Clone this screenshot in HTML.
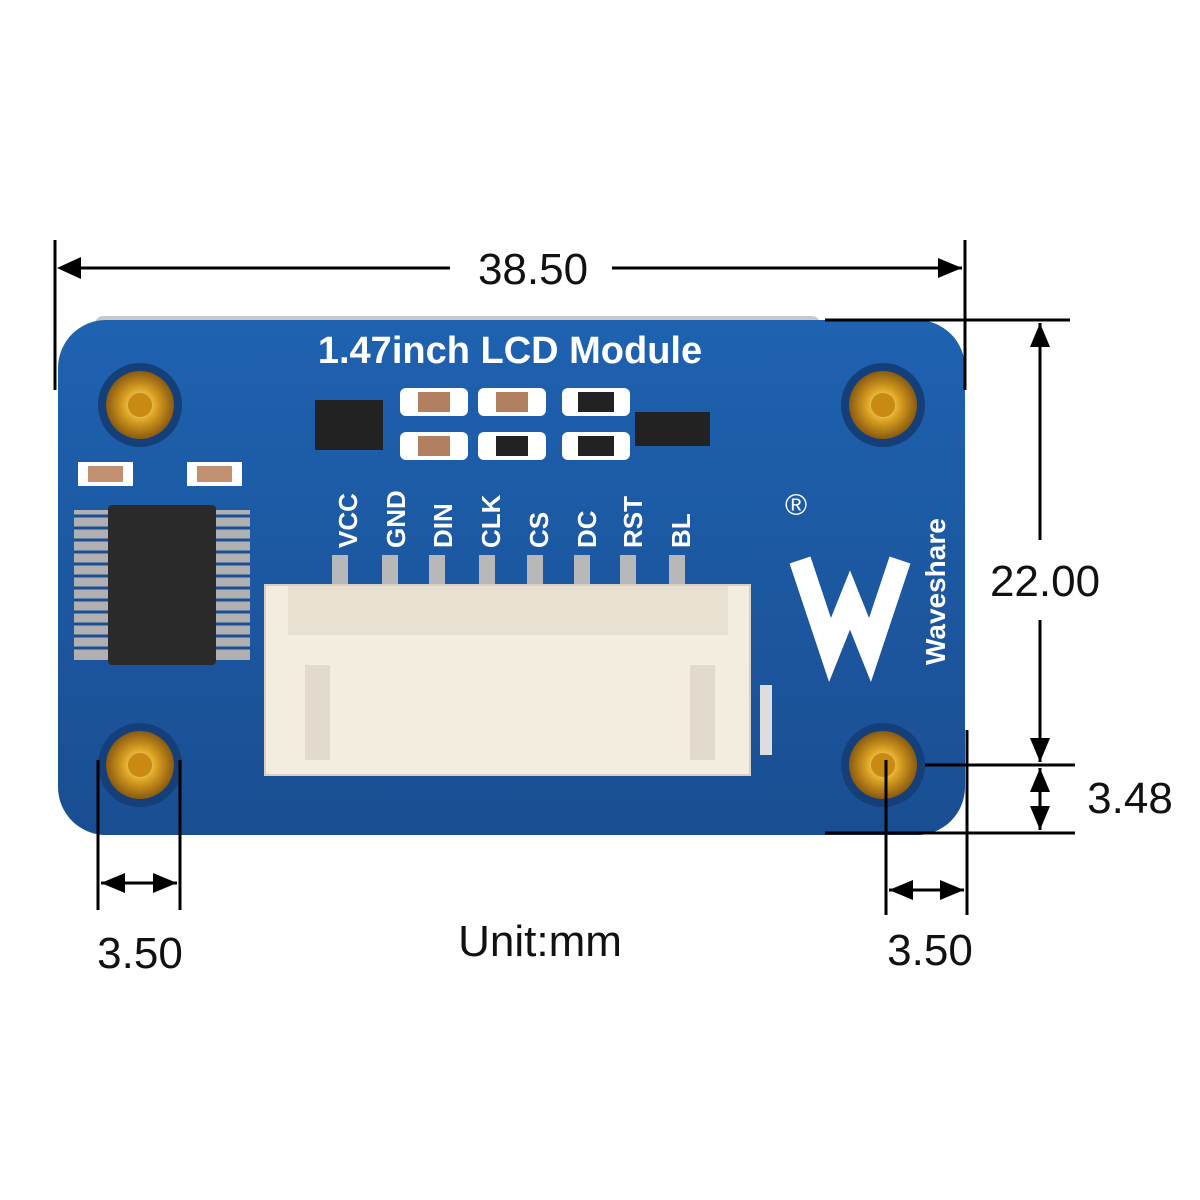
<!DOCTYPE html>
<html><head><meta charset="utf-8"><style>
body{margin:0;width:1200px;height:1200px;background:#fff;position:relative;overflow:hidden;font-family:"Liberation Sans",sans-serif}
.a{position:absolute}
</style></head><body>
<svg class="a" style="left:0;top:0" width="1200" height="1200" viewBox="0 0 1200 1200">
<defs>
<radialGradient id="g" cx="50%" cy="50%" r="50%"><stop offset="0" stop-color="#fff2a0"/><stop offset="0.5" stop-color="#d9a020"/><stop offset="1" stop-color="#8a5a10"/></radialGradient>
<linearGradient id="b" x1="0" y1="0" x2="0" y2="1"><stop offset="0" stop-color="#1e62b0"/><stop offset="1" stop-color="#1a4e92"/></linearGradient>
<marker id="ar" markerWidth="24" markerHeight="20" refX="10" refY="5" orient="auto" markerUnits="userSpaceOnUse" viewBox="0 0 10 10" preserveAspectRatio="none"><path d="M0,0 L10,5 L0,10 z" fill="#000"/></marker>
</defs>
<rect x="95" y="316" width="725" height="20" rx="8" fill="#c8c8c8"/>
<rect x="58" y="320" width="907" height="515" rx="48" fill="url(#b)"/>
<g>
<circle cx="140" cy="405" r="42" fill="#143f78"/><circle cx="140" cy="405" r="34" fill="url(#g)"/><circle cx="140" cy="405" r="12" fill="#c88a10"/>
<circle cx="883" cy="405" r="42" fill="#143f78"/><circle cx="883" cy="405" r="34" fill="url(#g)"/><circle cx="883" cy="405" r="12" fill="#c88a10"/>
<circle cx="140" cy="765" r="42" fill="#143f78"/><circle cx="140" cy="765" r="34" fill="url(#g)"/><circle cx="140" cy="765" r="12" fill="#c88a10"/>
<circle cx="883" cy="765" r="42" fill="#143f78"/><circle cx="883" cy="765" r="34" fill="url(#g)"/><circle cx="883" cy="765" r="12" fill="#c88a10"/>
</g>
<g fill="#b0b0b0">
<rect x="74" y="510" width="40" height="150"/><rect x="210" y="510" width="40" height="150"/>
</g>
<g stroke="#1a4f95" stroke-width="3">
<line x1="74" y1="516" x2="250" y2="516"/><line x1="74" y1="528" x2="250" y2="528"/><line x1="74" y1="540" x2="250" y2="540"/><line x1="74" y1="552" x2="250" y2="552"/><line x1="74" y1="564" x2="250" y2="564"/><line x1="74" y1="576" x2="250" y2="576"/><line x1="74" y1="588" x2="250" y2="588"/><line x1="74" y1="600" x2="250" y2="600"/><line x1="74" y1="612" x2="250" y2="612"/><line x1="74" y1="624" x2="250" y2="624"/><line x1="74" y1="636" x2="250" y2="636"/><line x1="74" y1="648" x2="250" y2="648"/>
</g>
<rect x="108" y="505" width="108" height="160" rx="4" fill="#2a2a2a"/>
<rect x="78" y="462" width="55" height="24" fill="#fff"/><rect x="88" y="466" width="35" height="16" fill="#c09070"/>
<rect x="187" y="462" width="55" height="24" fill="#fff"/><rect x="197" y="466" width="35" height="16" fill="#c09070"/>
<rect x="315" y="400" width="68" height="50" fill="#222"/>
<rect x="400" y="388" width="68" height="28" rx="6" fill="#fff"/><rect x="418" y="392" width="32" height="20" fill="#b08060"/>
<rect x="400" y="432" width="68" height="28" rx="6" fill="#fff"/><rect x="418" y="436" width="32" height="20" fill="#b08060"/>
<rect x="478" y="388" width="68" height="28" rx="6" fill="#fff"/><rect x="496" y="392" width="32" height="20" fill="#b08060"/>
<rect x="478" y="432" width="68" height="28" rx="6" fill="#fff"/><rect x="496" y="436" width="32" height="20" fill="#222"/>
<rect x="562" y="388" width="68" height="28" rx="6" fill="#fff"/><rect x="578" y="392" width="36" height="20" fill="#222"/>
<rect x="562" y="432" width="68" height="28" rx="6" fill="#fff"/><rect x="578" y="436" width="36" height="20" fill="#222"/>
<rect x="635" y="412" width="75" height="34" fill="#222"/>
<g fill="#b8b8b8">
<rect x="332" y="555" width="16" height="80"/><rect x="382" y="555" width="16" height="80"/><rect x="429" y="555" width="16" height="80"/><rect x="479" y="555" width="16" height="80"/><rect x="527" y="555" width="16" height="80"/><rect x="574" y="555" width="16" height="80"/><rect x="620" y="555" width="16" height="80"/><rect x="669" y="555" width="16" height="80"/>
</g>
<rect x="760" y="685" width="12" height="70" fill="#ddd"/>
<rect x="265" y="585" width="485" height="190" fill="#f3ede0"/>
<rect x="288" y="585" width="440" height="50" fill="#e8e0d0"/>
<rect x="305" y="665" width="25" height="95" fill="#e2dacb"/>
<rect x="690" y="665" width="25" height="95" fill="#e2dacb"/>
<rect x="265" y="585" width="485" height="190" fill="none" stroke="#d8d0c0" stroke-width="2"/>
<path d="M800 560 L830 650 L850 600 L870 650 L900 560" fill="none" stroke="#fff" stroke-width="22"/>
<g stroke="#000" stroke-width="3" fill="none">
<line x1="55" y1="240" x2="55" y2="390"/><line x1="965" y1="240" x2="965" y2="390"/>
<line x1="75" y1="268" x2="450" y2="268"/>
<line x1="612" y1="268" x2="962" y2="268" marker-end="url(#ar)"/>
<line x1="825" y1="320" x2="1070" y2="320"/><line x1="925" y1="765" x2="1075" y2="765"/><line x1="825" y1="833" x2="1075" y2="833"/>
<line x1="1040" y1="540" x2="1040" y2="323" marker-end="url(#ar)"/>
<line x1="1040" y1="620" x2="1040" y2="762" marker-end="url(#ar)"/>
<line x1="1040" y1="799" x2="1040" y2="768" marker-end="url(#ar)"/>
<line x1="1040" y1="799" x2="1040" y2="830" marker-end="url(#ar)"/>
<line x1="98" y1="760" x2="98" y2="910"/><line x1="180" y1="760" x2="180" y2="910"/>
<line x1="140" y1="883" x2="101" y2="883" marker-end="url(#ar)"/><line x1="140" y1="883" x2="177" y2="883" marker-end="url(#ar)"/>
<line x1="886" y1="760" x2="886" y2="915"/><line x1="967" y1="730" x2="967" y2="915"/>
<line x1="926" y1="890" x2="889" y2="890" marker-end="url(#ar)"/><line x1="926" y1="890" x2="964" y2="890" marker-end="url(#ar)"/>
</g>
<path d="M57,268 L81,257 L81,279z" fill="#000"/>
<g font-family="Liberation Sans,sans-serif" font-size="44" fill="#111">
<text x="533" y="284" text-anchor="middle">38.50</text>
<text x="1045" y="596" text-anchor="middle">22.00</text>
<text x="1130" y="813" text-anchor="middle">3.48</text>
<text x="140" y="968" text-anchor="middle">3.50</text>
<text x="930" y="965" text-anchor="middle">3.50</text>
<text x="540" y="956" text-anchor="middle">Unit:mm</text>
</g>
<text x="510" y="363" text-anchor="middle" font-family="Liberation Sans,sans-serif" font-weight="bold" font-size="38" fill="#fff">1.47inch LCD Module</text>
<g font-family="Liberation Sans,sans-serif" font-weight="bold" font-size="26" fill="#fff">
<text transform="translate(357,548) rotate(-90)">VCC</text>
<text transform="translate(405,548) rotate(-90)">GND</text>
<text transform="translate(452,548) rotate(-90)">DIN</text>
<text transform="translate(500,548) rotate(-90)">CLK</text>
<text transform="translate(548,548) rotate(-90)">CS</text>
<text transform="translate(596,548) rotate(-90)">DC</text>
<text transform="translate(642,548) rotate(-90)">RST</text>
<text transform="translate(690,548) rotate(-90)">BL</text>
<text transform="translate(945,665) rotate(-90)" font-size="28">Waveshare</text>
</g>
<text x="785" y="515" font-family="Liberation Sans,sans-serif" font-size="30" fill="#fff">®</text>
</svg>
</body></html>
